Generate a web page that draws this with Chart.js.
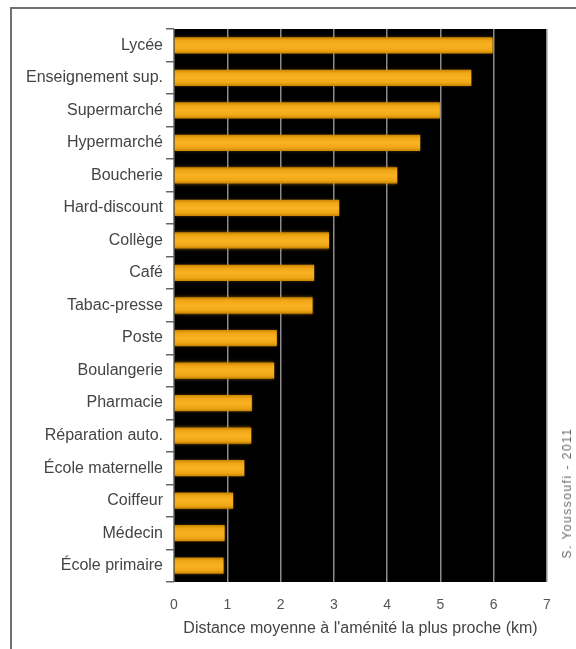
<!DOCTYPE html>
<html>
<head>
<meta charset="utf-8">
<script src="https://cdn.jsdelivr.net/npm/chart.js@4"></script>
<style>
  html, body { margin: 0; padding: 0; background: #fff; }
  #wrapper { position: relative; width: 576px; height: 649px; overflow: hidden; }
  #frame { position: absolute; left: 10px; top: 7px; width: 700px; height: 800px; border: 2px solid #707070; }
  #chartjs { position: absolute; left: 0; top: 0; }
  #credit {
    position: absolute; left: 567px; top: 493px; white-space: nowrap;
    font: 12px 'Liberation Sans', Arial, sans-serif; color: #666; letter-spacing: 1.5px;
    transform: translate(-50%, -50%) rotate(-90deg);
  }
</style>
</head>
<body>
<div id="wrapper">
  <div id="frame"></div>
  <canvas id="chartjs" width="576" height="649"></canvas>
  <div id="credit">S. Youssoufi - 2011</div>
</div>
<script>
const categories = ['Lycée', 'Enseignement sup.', 'Supermarché', 'Hypermarché', 'Boucherie',
  'Hard-discount', 'Collège', 'Café', 'Tabac-presse', 'Poste', 'Boulangerie', 'Pharmacie',
  'Réparation auto.', 'École maternelle', 'Coiffeur', 'Médecin', 'École primaire'];
const distances = [5.98, 5.58, 4.99, 4.62, 4.19, 3.10, 2.91, 2.63, 2.60, 1.93, 1.88, 1.46,
  1.45, 1.32, 1.11, 0.95, 0.93];
const xTicks = [0, 1, 2, 3, 4, 5, 6, 7];
const xTitle = "Distance moyenne à l'aménité la plus proche (km)";

const BAR_PCT = 0.5;
const FONT = "'Liberation Sans', Arial, sans-serif";

// black plot background
const plotBg = {
  id: 'plotBg',
  beforeDraw(chart) {
    const { ctx, chartArea: a } = chart;
    ctx.save();
    ctx.fillStyle = '#000';
    ctx.fillRect(a.left, a.top, a.right - a.left, a.bottom - a.top);
    ctx.restore();
  }
};

// soft glow under the bars
const barGlow = {
  id: 'barGlow',
  beforeDatasetsDraw(chart) {
    chart.ctx.save();
    chart.ctx.shadowColor = 'rgba(240, 160, 20, 0.55)';
    chart.ctx.shadowBlur = 3;
  },
  afterDatasetsDraw(chart) {
    chart.ctx.restore();
  }
};

// vertical gradient for each bar
function barFill(c) {
  const y = c.chart.scales.y;
  if (!y || c.dataIndex == null || !y.height) return '#f5a818';
  const center = y.getPixelForValue(c.dataIndex);
  const h = y.height / categories.length * BAR_PCT;
  const g = c.chart.ctx.createLinearGradient(0, center - h / 2, 0, center + h / 2);
  g.addColorStop(0, '#c88400');
  g.addColorStop(0.2, '#f0a716');
  g.addColorStop(0.5, '#f9b222');
  g.addColorStop(0.8, '#f0a716');
  g.addColorStop(1, '#c88400');
  return g;
}

new Chart(document.getElementById('chartjs').getContext('2d'), {
  type: 'bar',
  data: {
    labels: categories,
    datasets: [{
      data: distances,
      backgroundColor: barFill,
      borderWidth: 0,
      categoryPercentage: 1,
      barPercentage: BAR_PCT
    }]
  },
  options: {
    indexAxis: 'y',
    responsive: false,
    animation: false,
    layout: { padding: { left: 0, top: 29, right: 29, bottom: 0 } },
    plugins: { legend: { display: false }, tooltip: { enabled: false } },
    scales: {
      x: {
        min: 0,
        max: 7,
        afterBuildTicks: scale => { scale.ticks = xTicks.map(v => ({ value: v })); },
        afterFit: scale => { scale.height = 67; },
        grid: { color: '#8c8c8c', lineWidth: 1.5, drawTicks: false },
        border: { display: false },
        ticks: { padding: 15, color: '#555', font: { family: FONT, size: 14 } },
        title: {
          display: true,
          text: xTitle,
          color: '#444',
          font: { family: FONT, size: 16 },
          padding: { top: 0, bottom: 11 }
        }
      },
      y: {
        afterFit: scale => { scale.width = 174; },
        grid: { offset: true, drawOnChartArea: false, drawTicks: true, tickLength: 8, color: '#666', lineWidth: 1.5 },
        border: { display: false },
        ticks: { padding: 3, color: '#444', font: { family: FONT, size: 16 } }
      }
    }
  },
  plugins: [plotBg, barGlow]
});
</script>
</body>
</html>
